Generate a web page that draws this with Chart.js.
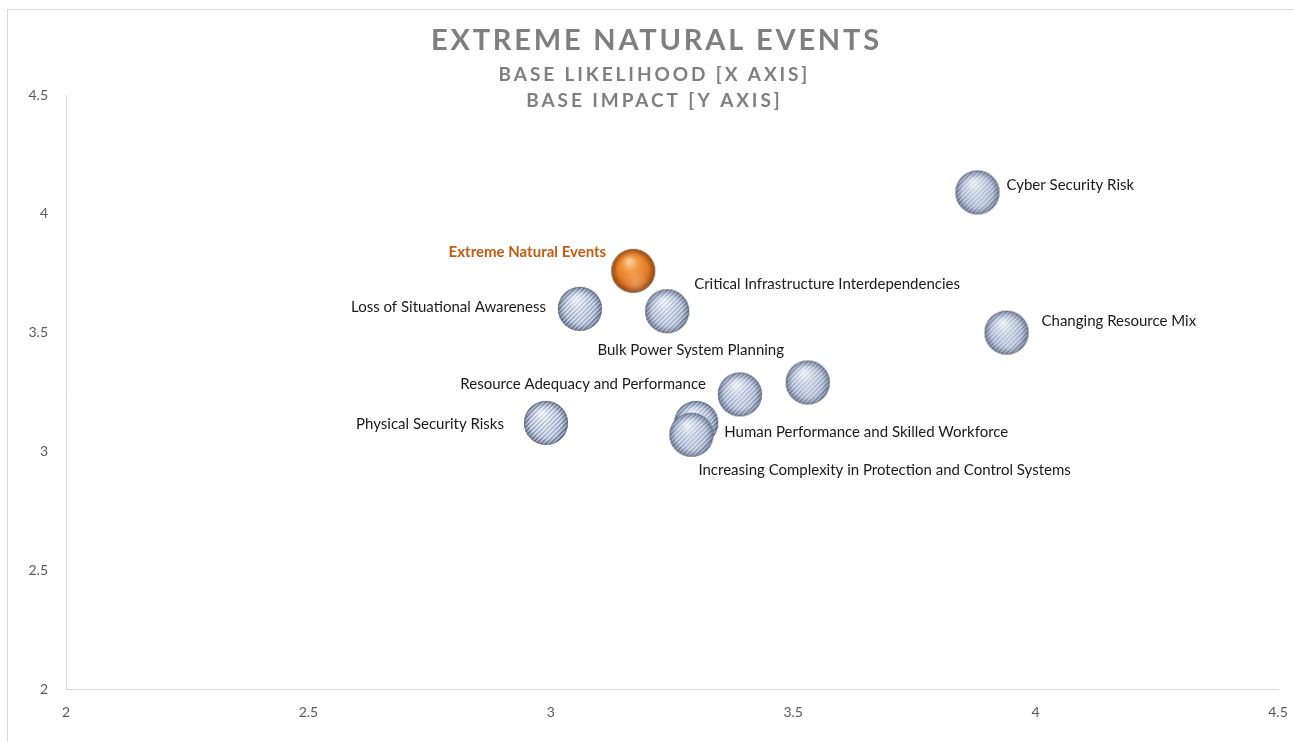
<!DOCTYPE html>
<html>
<head>
<meta charset="utf-8">
<script src="https://cdn.jsdelivr.net/npm/chart.js@4.4.1/dist/chart.umd.min.js"></script>
<style>
  html, body { margin: 0; padding: 0; background: #ffffff; overflow: hidden; }
  #wrap { width: 1294px; height: 742px; }
  canvas { display: block; }
</style>
</head>
<body>
<div id="wrap"><canvas id="c" width="1294" height="742"></canvas></div>
<script>
// ---- data ----
const riskNames = [
  'Cyber Security Risk',
  'Extreme Natural Events',
  'Critical Infrastructure Interdependencies',
  'Loss of Situational Awareness',
  'Changing Resource Mix',
  'Bulk Power System Planning',
  'Resource Adequacy and Performance',
  'Physical Security Risks',
  'Human Performance and Skilled Workforce',
  'Increasing Complexity in Protection and Control Systems'
];
const baseLikelihood = [3.88, 3.17, 3.24, 3.06, 3.94, 3.53, 3.39, 2.99, 3.30, 3.29];
const baseImpact     = [4.09, 3.76, 3.59, 3.60, 3.50, 3.29, 3.24, 3.12, 3.12, 3.07];
const highlighted    = 'Extreme Natural Events';
const axisTicks      = [2, 2.5, 3, 3.5, 4, 4.5];
const axisTickLabels = ['2', '2.5', '3', '3.5', '4', '4.5'];
const titleLines     = ['EXTREME NATURAL EVENTS', 'BASE LIKELIHOOD [X AXIS]', 'BASE IMPACT [Y AXIS]'];

// label placement relative to each point: [textAlign, dx, dy]
const labelPlacement = [
  ['left', 29, -7],
  ['right', -27, -19],
  ['left', 27, -27],
  ['right', -34, -2],
  ['left', 35, -11],
  ['center', -117, -32],
  ['right', -34, -10],
  ['right', -42, 1],
  ['left', 28, 9],
  ['left', 7, 35]
];

// ---- sphere images used as point styles ----
function makeSphere(orange) {
  const s = 46, r = 22, cx = 23, cy = 23;
  const cv = document.createElement('canvas');
  cv.width = s; cv.height = s;
  const g = cv.getContext('2d');
  g.save();
  g.beginPath(); g.arc(cx, cy, r, 0, Math.PI * 2); g.closePath();
  g.clip();
  const grad = g.createRadialGradient(cx - 4, cy - 10, 1, cx, cy, r + 1);
  if (orange) {
    grad.addColorStop(0, '#fbcf9f');
    grad.addColorStop(0.3, '#f29a45');
    grad.addColorStop(0.65, '#e47c26');
    grad.addColorStop(0.9, '#c35f15');
    grad.addColorStop(1, '#8c4511');
  } else {
    grad.addColorStop(0, '#eef2f9');
    grad.addColorStop(0.35, '#b9c6de');
    grad.addColorStop(0.7, '#90a3c6');
    grad.addColorStop(0.92, '#6c80a6');
    grad.addColorStop(1, '#4f5e80');
  }
  g.fillStyle = grad;
  g.fillRect(0, 0, s, s);
  if (!orange) {
    g.strokeStyle = 'rgba(255,255,255,0.62)';
    g.lineWidth = 1.8;
    for (let i = -60; i < 100; i += 4.6) {
      g.beginPath();
      g.moveTo(i, s);
      g.lineTo(i + s, 0);
      g.stroke();
    }
    g.strokeStyle = 'rgba(50,65,100,0.18)';
    g.lineWidth = 1;
    for (let i = -57.7; i < 100; i += 4.6) {
      g.beginPath();
      g.moveTo(i, s);
      g.lineTo(i + s, 0);
      g.stroke();
    }
  }
  // edge darkening
  const edge = g.createRadialGradient(cx, cy, r * 0.7, cx, cy, r);
  edge.addColorStop(0, 'rgba(0,0,0,0)');
  edge.addColorStop(1, orange ? 'rgba(80,35,5,0.3)' : 'rgba(30,40,70,0.28)');
  g.fillStyle = edge;
  g.fillRect(0, 0, s, s);
  // bottom rim light
  const rim = g.createRadialGradient(cx + 3, cy + 12, 2, cx + 3, cy + 12, 14);
  rim.addColorStop(0, 'rgba(255,255,255,0.2)');
  rim.addColorStop(1, 'rgba(255,255,255,0)');
  g.fillStyle = rim;
  g.fillRect(0, 0, s, s);
  g.restore();
  g.beginPath(); g.arc(cx, cy, r - 0.5, 0, Math.PI * 2);
  g.strokeStyle = orange ? 'rgba(120,120,120,0.6)' : 'rgba(90,100,120,0.6)';
  g.lineWidth = 1;
  g.stroke();
  return cv;
}
const blueSphere = makeSphere(false);
const orangeSphere = makeSphere(true);

const points = baseLikelihood.map((x, i) => ({ x: x, y: baseImpact[i] }));

const frameAndTitle = {
  id: 'frameAndTitle',
  beforeDraw(chart) {
    const ctx = chart.ctx;
    ctx.save();
    ctx.fillStyle = '#ffffff';
    ctx.fillRect(0, 0, chart.width, chart.height);
    ctx.strokeStyle = '#d9d9d9';
    ctx.lineWidth = 1;
    ctx.strokeRect(7.5, 9.5, chart.width + 20, chart.height + 20);
    ctx.restore();
  },
  afterDraw(chart) {
    const ctx = chart.ctx;
    ctx.save();
    ctx.fillStyle = '#7f7f7f';
    ctx.textAlign = 'center';
    ctx.textBaseline = 'middle';
    ctx.font = 'bold 29px Lato';
    ctx.letterSpacing = '2.8px';
    ctx.fillText(titleLines[0], 656.4, 41);
    ctx.font = 'bold 19px Lato';
    ctx.letterSpacing = '2.9px';
    ctx.fillText(titleLines[1], 654.4, 75);
    ctx.fillText(titleLines[2], 654.4, 101);
    ctx.letterSpacing = '0px';
    ctx.restore();
  }
};

const pointLabels = {
  id: 'pointLabels',
  afterDatasetsDraw(chart) {
    const ctx = chart.ctx;
    const meta = chart.getDatasetMeta(0);
    ctx.save();
    ctx.textBaseline = 'middle';
    meta.data.forEach((el, i) => {
      const [align, dx, dy] = labelPlacement[i];
      const hl = riskNames[i] === highlighted;
      ctx.font = (hl ? 'bold ' : '') + '15px Lato';
      ctx.fillStyle = hl ? '#c55a11' : '#1a1a1a';
      ctx.textAlign = align;
      ctx.fillText(riskNames[i], el.x + dx, el.y + dy);
    });
    ctx.restore();
  }
};

function tickText(value) {
  const k = axisTicks.indexOf(value);
  return k >= 0 ? axisTickLabels[k] : '';
}

new Chart(document.getElementById('c'), {
  type: 'scatter',
  data: {
    datasets: [{
      label: 'Risks',
      data: points,
      pointStyle: riskNames.map(n => n === highlighted ? orangeSphere : blueSphere),
      pointRadius: 22,
      pointHoverRadius: 22
    }]
  },
  options: {
    responsive: false,
    animation: false,
    events: [],
    layout: { autoPadding: false, padding: { top: 95, right: 16, left: 0, bottom: 0 } },
    plugins: {
      legend: { display: false },
      tooltip: { enabled: false }
    },
    scales: {
      x: {
        type: 'linear',
        min: 2, max: 4.5,
        afterBuildTicks(scale) { scale.ticks = axisTicks.map(v => ({ value: v })); },
        afterFit(scale) { scale.height = 53; scale.paddingLeft = 0; scale.paddingRight = 0; },
        grid: { display: false, drawTicks: false },
        border: { display: true, color: '#d9d9d9', width: 1 },
        ticks: { color: '#595959', font: { family: 'Lato', size: 14 }, padding: 15, maxRotation: 0, callback: tickText }
      },
      y: {
        type: 'linear',
        min: 2, max: 4.5,
        afterBuildTicks(scale) { scale.ticks = axisTicks.map(v => ({ value: v })); },
        afterFit(scale) { scale.width = 66; scale.paddingTop = 0; scale.paddingBottom = 0; },
        grid: { display: false, drawTicks: false },
        border: { display: true, color: '#d9d9d9', width: 1 },
        ticks: { color: '#595959', font: { family: 'Lato', size: 14 }, padding: 18, callback: tickText }
      }
    }
  },
  plugins: [frameAndTitle, pointLabels]
});
</script>
</body>
</html>
